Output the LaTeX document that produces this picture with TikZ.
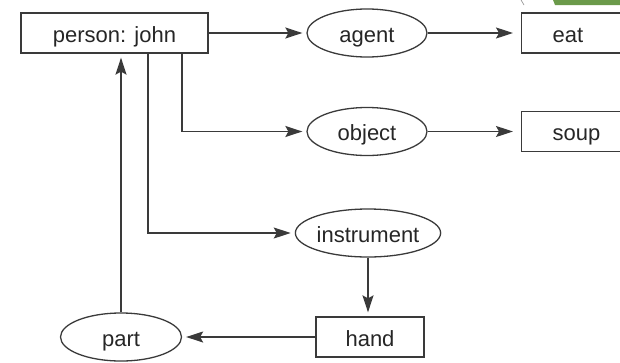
\documentclass[tikz,border=0pt]{standalone}
\usepackage{fontspec}
\setmainfont{Liberation Sans}
\usetikzlibrary{shapes.geometric,arrows.meta}
\definecolor{ink}{HTML}{3A3A3A}
\definecolor{leaf}{HTML}{6B9A4A}
\begin{document}
\begin{tikzpicture}[x=1pt,y=-1pt,
  every node/.style={font=\fontsize{22}{26}\selectfont, text=black!85, text height=18pt, text depth=0pt},
  box/.style={draw=ink, line width=1.3pt, rectangle, inner sep=0pt, minimum height=40pt},
  oval/.style={draw=ink, line width=1.3pt, ellipse, inner sep=0pt, minimum height=48pt},
  link/.style={draw=ink, line width=1.3pt, -{Stealth[length=17pt,width=11pt,inset=3pt]}, shorten >=4pt},
  line/.style={draw=ink, line width=1.3pt}]
\useasboundingbox (0,0) rectangle (620,362);
\clip (0,0) rectangle (620,362);

% corner of the neighbouring figure
\fill[leaf] (553,0) -- (620,0) -- (620,5) -- (555,5) -- cycle;
\draw[black!45, line width=0.6pt] (521,0) .. controls (522,3) .. (524,5);

% concept boxes
\node[box, minimum width=187pt] (john) at (114.5,33) {person: john};
\node[box, anchor=west, text width=80pt, align=left, inner xsep=31pt] (eat) at (521,33) {eat};
\node[box, anchor=west, text width=80pt, align=left, inner xsep=31pt] (soup) at (521,131.5) {soup};
\node[box, minimum width=108pt] (hand) at (370,337) {hand};

% relation ovals
\node[oval, minimum width=120pt] (agent) at (367,33) {agent};
\node[oval, minimum width=120pt] (object) at (367,131.5) {object};
\node[oval, minimum width=142pt] (instrument) at (368,233) {instrument};
\node[oval, minimum width=121pt] (part) at (121,337) {part};

% connectors
\draw[link] (john.east) -- (agent.west);
\draw[link, shorten >=8pt] (agent.east) -- (eat.west);
\draw[link, shorten >=8pt] (object.east) -- (soup.west);
\draw[link] ([xshift=67.5pt]john.south) |- (object.west);
\draw[link] ([xshift=33.5pt]john.south) |- (instrument.west);
\draw[link] (instrument.south) -- (instrument.south |- hand.north);
\draw[link] (hand.west) -- (part.east);
\draw[link] (part.north) -- (part.north |- john.south);
\end{tikzpicture}
\end{document}
